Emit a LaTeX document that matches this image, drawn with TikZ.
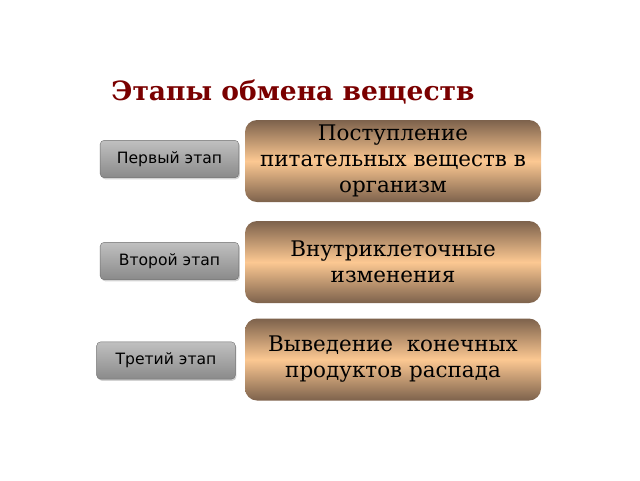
\documentclass[tikz,border=0pt]{standalone}
\usepackage{fontspec}
\setmainfont{DejaVu Serif}
\newfontfamily\btnfont{DejaVu Sans}
\usetikzlibrary{shadows}
\definecolor{titlered}{RGB}{122,0,0}
\definecolor{brownedge}{RGB}{125,98,76}
\definecolor{brownmid}{RGB}{252,200,146}
\definecolor{greytop}{RGB}{192,192,192}
\definecolor{greybot}{RGB}{138,138,138}
\tikzset{
  stagebox/.style={rounded corners=9pt, minimum width=222pt, minimum height=61.5pt,
    top color=brownedge, bottom color=brownedge, middle color=brownmid,
    align=center, font=\fontsize{16.1}{19.5}\selectfont, inner sep=0pt},
  stagebtn/.style={rounded corners=3pt, minimum width=104pt, minimum height=28pt,
    top color=greytop, bottom color=greybot, draw=greybot!80!black, line width=0.3pt,
    drop shadow={opacity=0.35, shadow xshift=0.8pt, shadow yshift=-1.2pt},
    font=\btnfont\fontsize{11.7}{14}\selectfont, inner sep=0pt}
}
\begin{document}
\begin{tikzpicture}[x=0.75pt,y=0.75pt,yscale=-1,xscale=1]
%set diagram size 640 x 480
\useasboundingbox (0,0) rectangle (640,480);
% Title
\node (title) at (293,92) [text=titlered, font=\bfseries\fontsize{19.9}{24}\selectfont] {Этапы обмена веществ};
% Stage boxes
\node (box1) at (393,161) [stagebox] {Поступление\\питательных веществ в\\организм};
\node (box2) at (393,262) [stagebox] {Внутриклеточные\\изменения};
\node (box3) at (393,359.5) [stagebox] {Выведение\ \ конечных\\продуктов распада};
% Stage buttons
\node (btn1) at (169.5,159) [stagebtn] {Первый этап};
\node (btn2) at (169.5,261) [stagebtn] {Второй этап};
\node (btn3) at (166,360.5) [stagebtn] {Третий этап};
\end{tikzpicture}
\end{document}
